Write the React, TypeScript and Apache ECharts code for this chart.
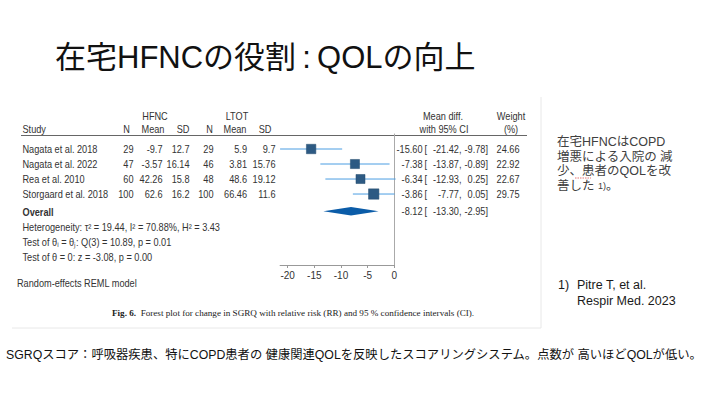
import React, { useEffect, useRef } from "react";
import * as echarts from "echarts";

const studies = ["Nagata et al. 2018", "Nagata et al. 2022", "Rea et al. 2010", "Storgaard et al. 2018"];
const hfncN = [29, 47, 60, 100];
const hfncMean = [-9.7, -3.57, 42.26, 62.6];
const hfncSD = [12.7, 16.14, 15.8, 16.2];
const ltotN = [29, 46, 48, 100];
const ltotMean = [5.9, 3.81, 48.6, 66.46];
const ltotSD = [9.7, 15.76, 19.12, 11.6];
const meanDiff = [-15.6, -7.38, -6.34, -3.86];
const ciLow = [-21.42, -13.87, -12.93, -7.77];
const ciHigh = [-9.78, -0.89, 0.25, 0.05];
const weights = [24.66, 22.92, 22.67, 29.75];
const overallEffect = [-8.12];
const overallLow = [-13.3];
const overallHigh = [-2.95];
const xTicks = [-20, -15, -10, -5, 0];

const heterogeneity = "Heterogeneity: τ² = 19.44, I² = 70.88%, H² = 3.43";
const testHomog = "Test of θᵢ = θⱼ: Q(3) = 10.89, p = 0.01";
const testZero = "Test of θ = 0: z = -3.08, p = 0.00";

const SANS = "'Liberation Sans', Arial, 'Noto Sans CJK JP', sans-serif";
const JP = "'Liberation Sans', 'Noto Sans CJK JP', sans-serif";
const FIG_FS = 10.2;
const FIG_SX = 0.9;
const FIG_COLOR = "#333";

// layout
const ROW_Y0 = 134;
const ROW_H = 15;
const rowY = (r: number) => ROW_Y0 + r * ROW_H;

function txt(text: string, x: number, y: number, o: any = {}) {
  const sx = o.scaleX ?? (o.fontSize === undefined ? FIG_SX : 1);
  return {
    type: "text",
    x,
    y,
    scaleX: sx,
    silent: true,
    style: {
      text,
      fontSize: o.fontSize ?? FIG_FS,
      fontFamily: o.fontFamily ?? SANS,
      fontWeight: o.fontWeight ?? "normal",
      fill: o.fill ?? FIG_COLOR,
      align: o.align ?? "left",
      textAlign: o.align ?? "left",
      verticalAlign: "middle",
      textVerticalAlign: "middle",
      rich: o.rich,
    },
  };
}

export default function App() {
  const ref = useRef<HTMLDivElement>(null);
  useEffect(() => {
    const chart = echarts.init(ref.current!, undefined, { renderer: "svg" });
    const g: any[] = [];

    // figure panel edges
    g.push({ type: "line", silent: true, shape: { x1: 541, y1: 97, x2: 541, y2: 328 }, style: { stroke: "#e8e8e8", lineWidth: 1 } });
    g.push({ type: "line", silent: true, shape: { x1: 12, y1: 328, x2: 541, y2: 328 }, style: { stroke: "#e8e8e8", lineWidth: 1 } });

    // title
    g.push(
      txt("在宅HFNCの役割\u2009:\u2009QOLの向上", 55, 57, {
        fontSize: 31,
        fontFamily: JP,
        fill: "#111",
      })
    );

    // table headers
    g.push(txt("HFNC", 155, 116, { align: "center" }));
    g.push(txt("LTOT", 237, 116, { align: "center" }));
    g.push(txt("Study", 22.5, 129.5));
    g.push(txt("N", 126.5, 129.5, { align: "center" }));
    g.push(txt("Mean", 153, 129.5, { align: "center" }));
    g.push(txt("SD", 183, 129.5, { align: "center" }));
    g.push(txt("N", 209.5, 129.5, { align: "center" }));
    g.push(txt("Mean", 235, 129.5, { align: "center" }));
    g.push(txt("SD", 265, 129.5, { align: "center" }));
    g.push(txt("Mean diff.", 443, 116.5, { align: "center" }));
    g.push(txt("with 95% CI", 444, 129.5, { align: "center" }));
    g.push(txt("Weight", 511, 116.5, { align: "center" }));
    g.push(txt("(%)", 511, 129.5, { align: "center" }));
    g.push({ type: "line", silent: true, shape: { x1: 21, y1: 135.5, x2: 527, y2: 135.5 }, style: { stroke: "#666", lineWidth: 1.2 } });

    studies.forEach((s, i) => {
      const y = rowY(i + 1);
      g.push(txt(s, 22.5, y));
      g.push(txt(String(hfncN[i]), 133.5, y, { align: "right" }));
      g.push(txt(String(hfncMean[i]), 162.5, y, { align: "right" }));
      g.push(txt(String(hfncSD[i]), 189.5, y, { align: "right" }));
      g.push(txt(String(ltotN[i]), 213.5, y, { align: "right" }));
      g.push(txt(String(ltotMean[i]), 247, y, { align: "right" }));
      g.push(txt(String(ltotSD[i]), 275.5, y, { align: "right" }));
      g.push(txt(meanDiff[i].toFixed(2), 422.5, y, { align: "right" }));
      g.push(txt("[", 424.5, y));
      g.push(txt(ciLow[i].toFixed(2) + ",", 461.5, y, { align: "right" }));
      g.push(txt(ciHigh[i].toFixed(2) + "]", 488, y, { align: "right" }));
      g.push(txt(weights[i].toFixed(2), 519.5, y, { align: "right" }));
    });
    const oy = rowY(5.15);
    g.push(txt("Overall", 22.5, oy + 1, { fontWeight: "bold" }));
    g.push(txt(overallEffect[0].toFixed(2), 422.5, oy, { align: "right" }));
    g.push(txt("[", 424.5, oy));
    g.push(txt(overallLow[0].toFixed(2) + ",", 461.5, oy, { align: "right" }));
    g.push(txt(overallHigh[0].toFixed(2) + "]", 488, oy, { align: "right" }));
    g.push(txt(heterogeneity, 22.5, 227));
    g.push(txt(testHomog, 22.5, 242));
    g.push(txt(testZero, 22.5, 257));
    g.push(txt("Random-effects REML model", 17, 283));
    g.push(
      txt("{b|Fig. 6.}  Forest plot for change in SGRQ with relative risk (RR) and 95 % confidence intervals (CI).", 112, 312.5, {
        fontFamily: "'Liberation Serif', serif",
        fontSize: 9.15,
        fill: "#222",
        rich: { b: { fontFamily: "'Liberation Serif', serif", fontSize: 9.15, fontWeight: "bold", fill: "#222" } },
      })
    );

    // right side notes
    const noteLines = ["在宅HFNCはCOPD", "増悪による入院の 減", "少、患者のQOLを改", "善した {s|1)}。"];
    noteLines.forEach((l, i) => {
      g.push(
        txt(l, 557, 142 + i * 14.5, {
          fontSize: 12.5,
          fontFamily: JP,
          fill: "#404040",
          rich: { s: { fontSize: 9, fontFamily: JP, fill: "#404040" } },
        })
      );
    });
    g.push({ type: "line", silent: true, shape: { x1: 575, y1: 178, x2: 591, y2: 178 }, style: { stroke: "#e05050", lineWidth: 0.8, lineDash: [1.5, 1] } });
    g.push(txt("1)", 558, 285, { fontSize: 12.5, fill: "#1a1a1a" }));
    g.push(txt("Pitre T, et al.", 577, 285, { fontSize: 12.5, fill: "#1a1a1a" }));
    g.push(txt("Respir Med. 2023", 577, 300.5, { fontSize: 12.5, fill: "#1a1a1a" }));

    // footer
    g.push(
      txt("SGRQスコア：呼吸器疾患、特にCOPD患者の 健康関連QOLを反映したスコアリングシステム。点数が 高いほどQOLが低い。", 6, 355, {
        fontSize: 12.3,
        fontFamily: JP,
        fill: "#111",
      })
    );

    const studyData = studies.map((_, i) => [meanDiff[i], ciLow[i], ciHigh[i], i + 1, weights[i]]);
    const overallData = overallEffect.map((m, i) => [m, overallLow[i], overallHigh[i], 5.15]);

    chart.setOption({
      animation: false,
      backgroundColor: "#fff",
      grid: { left: 280.1, top: ROW_Y0, width: 114.2, height: 131, containLabel: false },
      xAxis: {
        type: "value",
        min: -21.42,
        max: 0,
        axisLine: { show: true, onZero: false, lineStyle: { color: "#999", width: 1 } },
        axisTick: { show: true, length: 3, customValues: xTicks, lineStyle: { color: "#999" } },
        axisLabel: { customValues: xTicks, fontSize: 10, color: FIG_COLOR, fontFamily: SANS, margin: 5 },
        splitLine: { show: false },
      },
      yAxis: {
        type: "value",
        inverse: true,
        min: 0,
        max: 8.73,
        position: "right",
        axisLine: { show: true, onZero: false, lineStyle: { color: "#aaa", width: 1 } },
        axisTick: { show: false },
        axisLabel: { show: false },
        splitLine: { show: false },
      },
      series: [
        {
          type: "custom",
          clip: false,
          encode: { x: [0, 1, 2], y: 3 },
          data: studyData,
          renderItem: (params: any, api: any) => {
            const y = api.value(3);
            const lo = api.coord([api.value(1), y]);
            const hi = api.coord([api.value(2), y]);
            const c = api.coord([api.value(0), y]);
            const side = 1.9 * Math.sqrt(api.value(4));
            return {
              type: "group",
              children: [
                { type: "line", shape: { x1: lo[0], y1: lo[1], x2: hi[0], y2: hi[1] }, style: { stroke: "#4b9de2", lineWidth: 1 } },
                { type: "rect", shape: { x: c[0] - side / 2, y: c[1] - side / 2, width: side, height: side }, style: { fill: "#2d5a83", stroke: "#234a6d", lineWidth: 0.5 } },
              ],
            };
          },
        },
        {
          type: "custom",
          clip: false,
          encode: { x: [0, 1, 2], y: 3 },
          data: overallData,
          renderItem: (params: any, api: any) => {
            const y = api.value(3);
            const lo = api.coord([api.value(1), y]);
            const hi = api.coord([api.value(2), y]);
            const c = api.coord([api.value(0), y]);
            return {
              type: "polygon",
              shape: { points: [[lo[0], lo[1]], [c[0], c[1] - 4.2], [hi[0], hi[1]], [c[0], c[1] + 4.2]] },
              style: { fill: "#0b5ca8" },
            };
          },
        },
      ],
      graphic: g,
    });
    return () => chart.dispose();
  }, []);
  return <div ref={ref} style={{ position: "fixed", left: 0, top: 0, width: 704, height: 394 }} />;
}
